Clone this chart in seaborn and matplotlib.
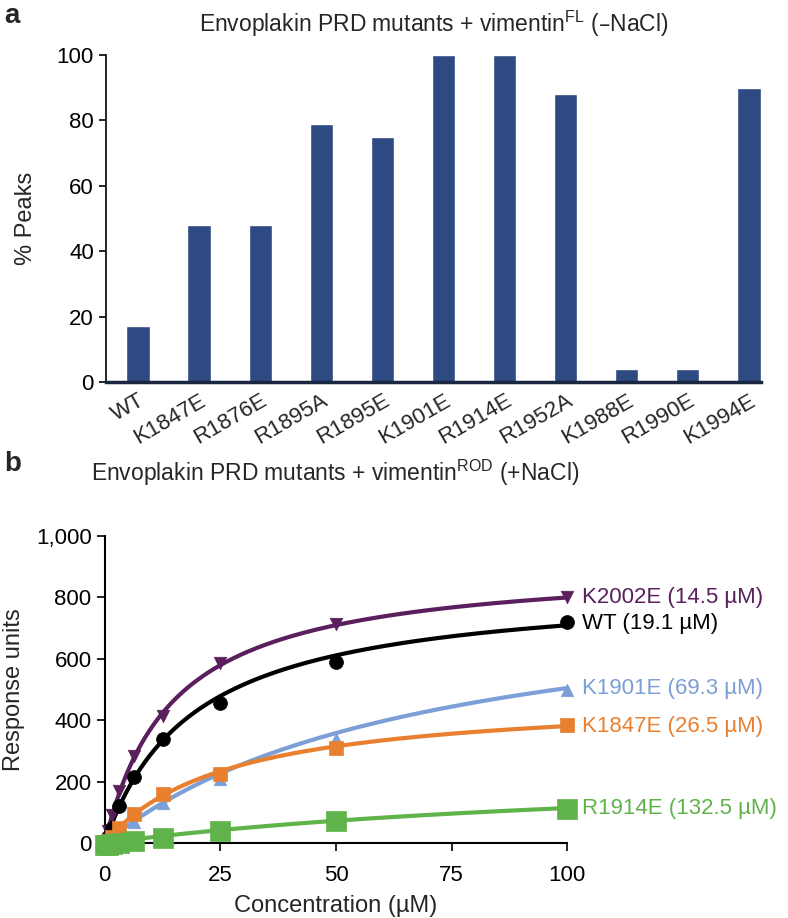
import numpy as np
import pandas as pd
import seaborn as sns
import matplotlib.pyplot as plt

# Panel a data
mutants = ["WT", "K1847E", "R1876E", "R1895A", "R1895E", "K1901E",
           "R1914E", "R1952A", "K1988E", "R1990E", "K1994E"]
peaks = [17, 48, 48, 79, 75, 100, 100, 88, 4, 4, 90]

# Panel b data (SPR binding)
conc = [0, 0.78, 1.56, 3.125, 6.25, 12.5, 25, 50, 100]
ru_k2002e = [0, 40, 90, 170, 285, 415, 585, 715, 800]
ru_wt = [-5, 20, 50, 120, 215, 340, 455, 590, 720]
ru_k1901e = [-5, 5, 20, 40, 70, 130, 210, 340, 500]
ru_k1847e = [-5, 5, 20, 50, 95, 160, 225, 310, 385]
ru_r1914e = [-5, -5, -3, 0, 5, 15, 38, 72, 110]

series_names = ["K2002E", "WT", "K1901E", "K1847E", "R1914E"]
kd_values = [14.5, 19.1, 69.3, 26.5, 132.5]
bmax_values = [916, 845, 855, 482, 265]
colors = ["#5a1f5c", "#000000", "#7b9fd6", "#e8802f", "#60b34a"]
markers = ["v", "o", "^", "s", "s"]
marker_sizes = [9, 10, 9, 10, 14]
label_y = [800, 715, 505, 380, 112]

sns.set_theme(style="ticks")
plt.rcParams['font.family'] = ['Liberation Sans', 'DejaVu Sans']

fig = plt.figure(figsize=(7.88, 9.18), dpi=100)

# ---------------- Panel a ----------------
ax1 = fig.add_axes([0.134, 0.584, 0.832, 0.356])
df_a = pd.DataFrame({"mutant": mutants, "peaks": peaks})
sns.barplot(data=df_a, x="mutant", y="peaks", color="#2e4a82", saturation=1,
            width=0.38, ax=ax1)
ax1.set_xlim(-0.53, 10.2)
ax1.set_ylim(0, 100)
ax1.set_yticks([0, 20, 40, 60, 80, 100])
ax1.set_xlabel("")
ax1.set_ylabel("% Peaks", fontsize=17, labelpad=14)
ax1.tick_params(axis="y", labelsize=16, length=5, width=1.2, colors="black")
ax1.tick_params(axis="x", labelsize=16, length=0, pad=6)
plt.setp(ax1.get_xticklabels(), rotation=30, ha="right", rotation_mode="anchor")
sns.despine(ax=ax1)
ax1.spines["left"].set_linewidth(1.2)
ax1.spines["left"].set_color("black")
ax1.spines["bottom"].set_linewidth(2.5)
ax1.spines["bottom"].set_color("#1a2640")
ax1.set_title("Envoplakin PRD mutants + vimentin$^{\\mathregular{FL}}$ (\u2013NaCl)",
              fontsize=16.5, pad=17)
fig.text(0.005, 0.975, "a", fontsize=20, fontweight="bold")

# ---------------- Panel b ----------------
ax2 = fig.add_axes([0.133, 0.0817, 0.587, 0.3343])
all_ru = [ru_k2002e, ru_wt, ru_k1901e, ru_k1847e, ru_r1914e]
rows = []
for name, ru in zip(series_names, all_ru):
    for c, r in zip(conc, ru):
        rows.append({"series": name, "conc": c, "ru": r})
df_b = pd.DataFrame(rows)

xfit = np.linspace(0, 100, 300)
for name, kd, bmax, col, mk, ms, ly in zip(series_names, kd_values, bmax_values,
                                           colors, markers, marker_sizes, label_y):
    fit = pd.DataFrame({"conc": xfit, "ru": bmax * xfit / (kd + xfit)})
    sns.lineplot(data=fit, x="conc", y="ru", color=col, lw=3, ax=ax2,
                 clip_on=False)
    pts = df_b[df_b["series"] == name]
    sns.scatterplot(data=pts, x="conc", y="ru", color=col, marker=mk,
                    s=ms ** 2, edgecolor=col, linewidth=0.5, ax=ax2,
                    clip_on=False, zorder=5)
    ax2.text(103.2, ly, f"{name} ({kd} \u00b5M)", color=col, fontsize=16,
             va="center", ha="left", clip_on=False)

ax2.set_xlim(0, 100)
ax2.set_ylim(0, 1000)
ax2.set_xticks([0, 25, 50, 75, 100])
ax2.set_yticks([0, 200, 400, 600, 800, 1000])
ax2.set_yticklabels(["0", "200", "400", "600", "800", "1,000"])
ax2.tick_params(labelsize=16, length=6, width=1.2, colors="black")
ax2.tick_params(axis="x", pad=10)
ax2.set_xlabel("Concentration (\u00b5M)", fontsize=17, labelpad=6)
ax2.set_ylabel("Response units", fontsize=17, labelpad=8)
sns.despine(ax=ax2)
for s in ["left", "bottom"]:
    ax2.spines[s].set_linewidth(1.5)
    ax2.spines[s].set_color("black")
fig.text(0.116, 0.476, "Envoplakin PRD mutants + vimentin$^{\\mathregular{ROD}}$ (+NaCl)",
         fontsize=16.5)
fig.text(0.005, 0.487, "b", fontsize=20, fontweight="bold")

fig.savefig("out.png", dpi=100)
